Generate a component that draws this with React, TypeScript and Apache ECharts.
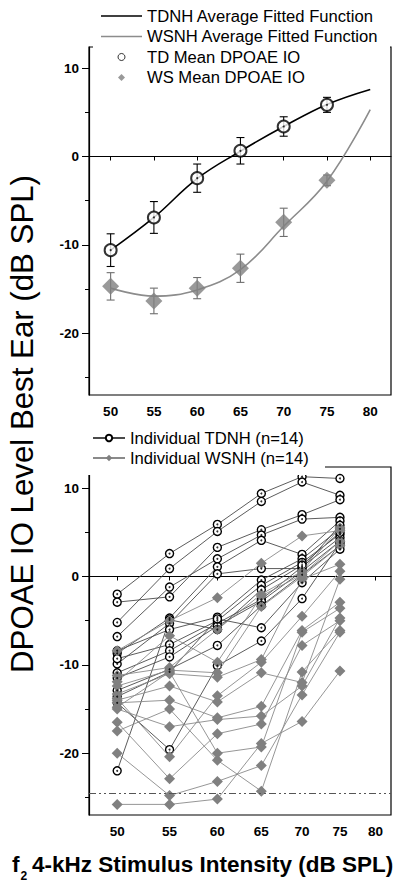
import React, { useEffect, useRef } from "react";
import * as echarts from "echarts";

// ---------- data ----------
const STIM = [50, 55, 60, 65, 70, 75];
const X_TICKS = [50, 55, 60, 65, 70, 75, 80];
const Y_MAJOR = [-20, -10, 0, 10];
const Y_MINOR = [-25, -15, -5, 5];
const Y_MIN = -27;
const Y_MAX = 12.4;

const FIT_X = [50, 55, 60, 65, 70, 75, 80];
const TD_FIT = [-10.6, -6.9, -2.5, 0.6, 3.4, 5.9, 7.6];
const WS_FIT = [-14.9, -15.8, -15.1, -12.8, -7.9, -2.8, 5.3];

const TD_MEAN = [-10.6, -6.9, -2.45, 0.65, 3.4, 5.85];
const TD_ERR = [1.85, 1.8, 1.6, 1.5, 1.1, 0.85];
const WS_MEAN = [-14.7, -16.35, -14.9, -12.65, -7.45, -2.7];
const WS_ERR = [1.55, 1.45, 1.2, 1.6, 1.6, 0.6];

const TD_INDIV = [
  [-2.0, 2.6, 5.9, 9.4, 11.3, 11.1],
  [-5.2, 0.9, 5.1, 8.5, 10.7, 9.2],
  [-2.9, -2.3, 3.3, 5.3, 7.0, 8.7],
  [-6.8, -1.2, 2.0, 4.7, 6.5, 6.7],
  [-8.7, -4.7, 1.1, 4.1, 2.5, 6.3],
  [-9.9, -5.3, 0.3, 0.9, 0.9, 5.8],
  [-8.4, -6.0, -4.6, -0.4, 2.0, 5.4],
  [-9.3, -7.7, -5.0, -1.0, 1.6, 4.8],
  [-10.9, -8.4, -5.3, -2.6, 1.1, 4.4],
  [-11.5, -9.1, -5.6, -2.8, 0.6, 4.0],
  [-12.9, -10.5, -7.8, -3.3, 0.2, 3.5],
  [-13.6, -10.8, -4.8, -5.8, -0.7, 3.1],
  [-14.3, -19.6, -10.1, -7.3, -2.5, 3.8],
  [-22.0, -4.9, -6.0, -1.5, 1.3, 5.0],
];

const WS_INDIV = [
  [-8.4, -5.0, -2.4, 1.5, 4.6, 5.2],
  [-11.2, -10.3, -6.0, -2.0, 0.6, 5.5],
  [-11.9, -6.7, -9.7, -2.2, 0.2, 4.0],
  [-12.4, -10.6, -10.9, -3.4, 0.0, 3.5],
  [-13.3, -11.0, -11.4, -9.4, -0.3, 1.4],
  [-13.8, -20.4, -13.5, -9.7, -4.5, 0.6],
  [-14.0, -12.4, -14.2, -10.9, -12.0, -0.3],
  [-14.3, -14.0, -16.0, -14.7, -6.1, -2.9],
  [-14.8, -10.8, -20.0, -19.3, -6.3, -3.6],
  [-15.0, -17.0, -16.2, -15.8, -12.4, -4.7],
  [-16.5, -22.9, -17.8, -16.7, -7.8, -5.0],
  [-17.5, -15.0, -20.8, -24.3, -10.8, -6.1],
  [-20.0, -24.8, -23.2, -21.4, -13.4, -6.3],
  [-25.8, -25.8, -25.2, -18.9, -16.4, -10.7],
];

const NOISE_FLOOR = -24.5;

const TD_FIT_NAME = "TDNH Average Fitted Function";
const WS_FIT_NAME = "WSNH Average Fitted Function";
const TD_MEAN_NAME = "TD Mean DPOAE IO";
const WS_MEAN_NAME = "WS Mean DPOAE IO";
const TD_IND_NAME = "Individual TDNH (n=14)";
const WS_IND_NAME = "Individual WSNH (n=14)";

const Y_TITLE = "DPOAE IO Level Best Ear (dB SPL)";
const X_TITLE = "4-kHz Stimulus Intensity (dB SPL)";

// target rendered widths (px) of a few long texts, as in the reference
const TARGETS: Record<string, number> = {
  yTitle: 498,
  xTitle: 361,
  topLegend: 226,
  botLegend: 174,
};
const TARGET_TEXT: Record<string, string> = {
  yTitle: Y_TITLE,
  xTitle: X_TITLE,
  topLegend: TD_FIT_NAME,
  botLegend: TD_IND_NAME,
};

// ---------- helpers ----------
const FONT = "'Liberation Sans', Arial, Helvetica, sans-serif";
const ln = (v: number) => Math.log(v);

type Sizes = { yTitle: number; xTitle: number; topLegend: number; botLegend: number };

function errRender(color: string) {
  return (params: any, api: any) => {
    const x = api.value(0);
    const lo = api.coord([x, api.value(1)]);
    const hi = api.coord([x, api.value(2)]);
    const w = 4;
    const st = { stroke: color, lineWidth: 1.1 };
    return {
      type: "group",
      children: [
        { type: "line", shape: { x1: lo[0], y1: lo[1], x2: hi[0], y2: hi[1] }, style: st },
        { type: "line", shape: { x1: lo[0] - w, y1: lo[1], x2: lo[0] + w, y2: lo[1] }, style: st },
        { type: "line", shape: { x1: hi[0] - w, y1: hi[1], x2: hi[0] + w, y2: hi[1] }, style: st },
      ],
    };
  };
}

function yAxes(gi: number) {
  return [
    {
      type: "value",
      gridIndex: gi,
      position: "left",
      min: Y_MIN,
      max: Y_MAX,
      axisLine: { show: true, lineStyle: { color: "#000", width: 1.2 } },
      axisTick: { show: true, length: 7, customValues: Y_MAJOR, lineStyle: { color: "#000" } },
      axisLabel: {
        customValues: Y_MAJOR,
        margin: 10,
        fontSize: 13.5,
        fontWeight: "bold",
        color: "#000",
        fontFamily: FONT,
      },
      splitLine: { show: false },
    },
    {
      type: "value",
      gridIndex: gi,
      position: "left",
      min: Y_MIN,
      max: Y_MAX,
      axisLine: { show: false },
      axisTick: { show: true, length: 4, customValues: Y_MINOR, lineStyle: { color: "#000" } },
      axisLabel: { show: false },
      splitLine: { show: false },
    },
  ];
}

function buildOption(sz: Sizes) {
  const tdFitData = FIT_X.map((x, i) => [x, TD_FIT[i]]);
  const wsFitData = FIT_X.map((x, i) => [x, WS_FIT[i]]);
  const tdMeanData = STIM.map((x, i) => [x, TD_MEAN[i]]);
  const wsMeanData = STIM.map((x, i) => [x, WS_MEAN[i]]);
  const tdErrData = STIM.map((x, i) => [x, TD_MEAN[i] - TD_ERR[i], TD_MEAN[i] + TD_ERR[i]]);
  const wsErrData = STIM.map((x, i) => [x, WS_MEAN[i] - WS_ERR[i], WS_MEAN[i] + WS_ERR[i]]);

  const series: any[] = [
    {
      type: "custom",
      xAxisIndex: 0,
      yAxisIndex: 0,
      renderItem: errRender("#6e6e6e"),
      data: wsErrData,
      encode: { x: 0, y: [1, 2] },
      z: 1,
      silent: true,
    },
    {
      type: "custom",
      xAxisIndex: 0,
      yAxisIndex: 0,
      renderItem: errRender("#000"),
      data: tdErrData,
      encode: { x: 0, y: [1, 2] },
      z: 1,
      silent: true,
    },
    {
      name: TD_FIT_NAME,
      type: "line",
      xAxisIndex: 0,
      yAxisIndex: 0,
      data: tdFitData,
      smooth: 0.4,
      symbol: "none",
      color: "#000",
      lineStyle: { color: "#000", width: 1.6 },
      z: 2,
    },
    {
      name: WS_FIT_NAME,
      type: "line",
      xAxisIndex: 0,
      yAxisIndex: 0,
      data: wsFitData,
      smooth: 0.4,
      symbol: "none",
      color: "#8c8c8c",
      lineStyle: { color: "#8c8c8c", width: 1.6 },
      z: 2,
    },
    {
      name: TD_MEAN_NAME,
      type: "scatter",
      xAxisIndex: 0,
      yAxisIndex: 0,
      data: tdMeanData,
      symbol: "circle",
      symbolSize: 12,
      itemStyle: { color: "#fff", borderColor: "#000", borderWidth: 2 },
      z: 3,
    },
    {
      type: "scatter",
      xAxisIndex: 0,
      yAxisIndex: 0,
      data: tdMeanData,
      symbol: "circle",
      symbolSize: 2,
      itemStyle: { color: "#000" },
      z: 4,
      silent: true,
    },
    {
      name: WS_MEAN_NAME,
      type: "scatter",
      xAxisIndex: 0,
      yAxisIndex: 0,
      data: wsMeanData,
      symbol: "diamond",
      symbolSize: 17,
      itemStyle: { color: "#7f7f7f" },
      z: 3,
    },
  ];

  TD_INDIV.forEach((row) => {
    series.push({
      name: TD_IND_NAME,
      type: "line",
      xAxisIndex: 1,
      yAxisIndex: 2,
      data: STIM.map((x, i) => [ln(x), row[i]]),
      symbol: "circle",
      symbolSize: 8,
      showAllSymbol: true,
      color: "#555",
      lineStyle: { color: "#4a4a4a", width: 0.9 },
      itemStyle: { color: "#fff", borderColor: "#000", borderWidth: 1.4 },
      z: 2,
    });
  });
  const tdDots: number[][] = [];
  TD_INDIV.forEach((row) => STIM.forEach((x, i) => tdDots.push([ln(x), row[i]])));

  WS_INDIV.forEach((row, k) => {
    const s: any = {
      name: WS_IND_NAME,
      type: "line",
      xAxisIndex: 1,
      yAxisIndex: 2,
      data: STIM.map((x, i) => [ln(x), row[i]]),
      symbol: "diamond",
      symbolSize: 11,
      showAllSymbol: true,
      color: "#808080",
      lineStyle: { color: "#8a8a8a", width: 0.9 },
      itemStyle: { color: "#808080" },
      z: 3,
    };
    if (k === 0) {
      s.markLine = {
        silent: true,
        symbol: ["none", "none"],
        label: { show: false },
        lineStyle: { color: "#555", type: [7, 3, 2, 3, 2, 3], width: 1 },
        data: [{ yAxis: NOISE_FLOOR }],
      };
    }
    series.push(s);
  });

  series.push({
    type: "scatter",
    xAxisIndex: 1,
    yAxisIndex: 2,
    data: tdDots,
    symbol: "circle",
    symbolSize: 2,
    itemStyle: { color: "#000" },
    z: 4,
    silent: true,
  });

  const DIAMOND = "path://M5,0L10,5L5,10L0,5Z";
  const LINE_ICON = "path://M0,0H40V1.6H0Z";

  return {
    animation: false,
    backgroundColor: "#fff",
    grid: [
      { left: 89, right: 9, top: 47, height: 348, show: true, borderColor: "#000", borderWidth: 1.2, backgroundColor: "transparent" },
      { left: 89, right: 9, top: 467, height: 348, show: true, borderColor: "#000", borderWidth: 1.2, backgroundColor: "transparent" },
    ],
    xAxis: [
      {
        type: "value",
        gridIndex: 0,
        min: 47.5,
        max: 82.4,
        axisLine: { show: true, lineStyle: { color: "#000", width: 1.2 } },
        axisTick: { show: true, length: 4, customValues: X_TICKS, lineStyle: { color: "#000" } },
        axisLabel: {
          customValues: X_TICKS,
          margin: 9,
          fontSize: 13.5,
          fontWeight: "bold",
          color: "#000",
          fontFamily: FONT,
        },
        splitLine: { show: false },
      },
      {
        type: "value",
        gridIndex: 1,
        min: ln(47.5),
        max: ln(82.3),
        axisLine: { show: true, lineStyle: { color: "#000", width: 1.2 } },
        axisTick: { show: true, length: 4, customValues: X_TICKS.map(ln), lineStyle: { color: "#000" } },
        axisLabel: {
          customValues: X_TICKS.map(ln),
          formatter: (v: number) => String(Math.round(Math.exp(v))),
          margin: 9,
          fontSize: 13.5,
          fontWeight: "bold",
          color: "#000",
          fontFamily: FONT,
        },
        splitLine: { show: false },
      },
    ],
    yAxis: [...yAxes(0), ...yAxes(1)],
    legend: [
      {
        orient: "vertical",
        left: 101,
        top: 6,
        padding: 0,
        itemWidth: 41,
        itemHeight: 7,
        itemGap: 0.5,
        selectedMode: false,
        textStyle: { fontSize: sz.topLegend, color: "#000", fontFamily: FONT, lineHeight: 20 },
        data: [
          { name: TD_FIT_NAME, icon: LINE_ICON },
          { name: WS_FIT_NAME, icon: LINE_ICON },
          { name: TD_MEAN_NAME, icon: "circle", itemStyle: { borderWidth: 1, borderColor: "#000", color: "#fff" } },
          { name: WS_MEAN_NAME, icon: DIAMOND, itemStyle: { color: "#7f7f7f" } },
        ],
        z: 10,
      },
      {
        orient: "vertical",
        left: 92,
        top: 428,
        padding: 0,
        itemWidth: 32,
        itemHeight: 8,
        itemGap: 0,
        selectedMode: false,
        textStyle: { fontSize: sz.botLegend, color: "#000", fontFamily: FONT, lineHeight: 20 },
        data: [TD_IND_NAME, WS_IND_NAME],
        z: 10,
      },
    ],
    graphic: [
      { type: "rect", z: 5, silent: true, shape: { x: 93, y: 42, width: 297, height: 10 }, style: { fill: "#fff" } },
      { type: "rect", z: 5, silent: true, shape: { x: 84, y: 424, width: 241, height: 51 }, style: { fill: "#fff" } },
      {
        type: "text",
        z: 6,
        x: 22,
        y: 424,
        rotation: Math.PI / 2,
        style: {
          text: Y_TITLE,
          fontSize: sz.yTitle,
          fontFamily: FONT,
          fill: "#000",
          align: "center",
          verticalAlign: "middle",
        },
      },
      {
        type: "text",
        z: 6,
        x: 12,
        y: 864,
        style: { text: "f", fontSize: sz.xTitle, fontWeight: "bold", fontFamily: FONT, fill: "#000", align: "left", verticalAlign: "middle" },
      },
      {
        type: "text",
        z: 6,
        x: 20.5,
        y: 876,
        style: { text: "2", fontSize: 12, fontWeight: "bold", fontFamily: FONT, fill: "#000", align: "left", verticalAlign: "middle" },
      },
      {
        type: "text",
        z: 6,
        x: 32,
        y: 864,
        style: { text: X_TITLE, fontSize: sz.xTitle, fontWeight: "bold", fontFamily: FONT, fill: "#000", align: "left", verticalAlign: "middle" },
      },
    ],
    series,
  };
}

export default function App() {
  const ref = useRef<HTMLDivElement>(null);
  useEffect(() => {
    const el = ref.current;
    if (!el) return;
    const chart = echarts.init(el, undefined, { renderer: "svg" });
    let sz: Sizes = { yTitle: 31, xTitle: 22.5, topLegend: 16.5, botLegend: 16.5 };
    chart.setOption(buildOption(sz) as any, true);
    // measure the texts as actually drawn and rescale font sizes to the reference widths
    for (let pass = 0; pass < 2; pass++) {
      const texts = Array.from(el.querySelectorAll("text")) as SVGTextElement[];
      const next: any = { ...sz };
      let changed = false;
      (Object.keys(TARGETS) as (keyof Sizes)[]).forEach((k) => {
        const t = texts.find((e) => (e.textContent || "").trim() === TARGET_TEXT[k]);
        if (!t) return;
        let w = 0;
        try {
          w = t.getComputedTextLength();
        } catch (e) {
          w = 0;
        }
        if (w > 0 && Math.abs(w - TARGETS[k]) > 1) {
          next[k] = (sz[k] * TARGETS[k]) / w;
          changed = true;
        }
      });
      if (!changed) break;
      sz = next;
      chart.setOption(buildOption(sz) as any, true);
    }
    return () => chart.dispose();
  }, []);
  return (
    <div
      ref={ref}
      style={{ position: "fixed", left: 0, top: 0, width: 400, height: 887, background: "#fff" }}
    />
  );
}
